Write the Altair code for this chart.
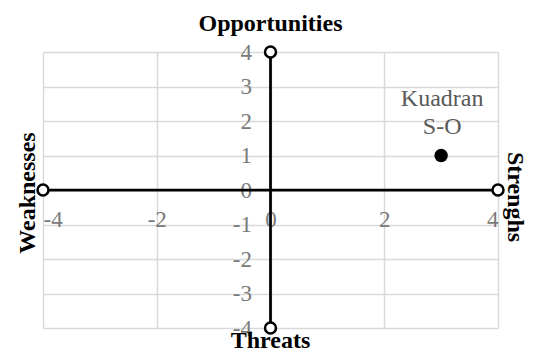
import altair as alt
import pandas as pd

# ---- data ----
x_tick_values = [-4, -2, 0, 2, 4]
y_tick_values = [-4, -3, -2, -1, 0, 1, 2, 3, 4]

axis_line_id = ["horizontal", "horizontal", "vertical", "vertical"]
axis_line_x = [-4, 4, 0, 0]
axis_line_y = [0, 0, -4, 4]

point_x = [3]
point_y = [1]
point_label = ["Kuadran\nS-O"]

title_names = ["Opportunities", "Threats", "Weaknesses", "Strenghs"]
title_x = [0, 0, -4, 4]
title_y = [4, -4, 0, 0]

# ---- tables ----
lines_df = pd.DataFrame({"id": axis_line_id, "x": axis_line_x, "y": axis_line_y})
pt_df = pd.DataFrame({"x": point_x, "y": point_y, "label": point_label})
titles_df = pd.DataFrame({"name": title_names, "x": title_x, "y": title_y})

FONT = "Liberation Serif"
xs = alt.Scale(domain=[-4, 4], nice=False, zero=False)
ys = alt.Scale(domain=[-4, 4], nice=False, zero=False)

W, H = 455, 276

grid_x_axis = alt.Axis(values=x_tick_values, grid=True, labels=False, ticks=False,
                       domain=False, title=None, gridColor="#d9d9d9", gridWidth=1.5, orient="bottom")
grid_y_axis = alt.Axis(values=y_tick_values, grid=True, labels=False, ticks=False,
                       domain=False, title=None, gridColor="#d9d9d9", gridWidth=1.5, orient="left")

lbl_x_axis = alt.Axis(values=x_tick_values, grid=False, ticks=False, domain=False, title=None,
                      orient="bottom", offset=-(H / 2), labelPadding=18, labelFont=FONT,
                      labelFontSize=23, labelColor="#7a7a7a", labelBaseline="top",
                      labelExpr="'' + datum.value", labelOverlap=False)
lbl_y_axis = alt.Axis(values=y_tick_values, grid=False, ticks=False, domain=False, title=None,
                      orient="left", offset=-(W / 2), labelPadding=19, labelFont=FONT,
                      labelFontSize=23, labelColor="#7a7a7a", labelBaseline="middle",
                      labelExpr="'' + datum.value", labelOverlap=False)

lines = alt.Chart(lines_df).mark_line(color="black", strokeWidth=2.75).encode(
    x=alt.X("x:Q", scale=xs, axis=grid_x_axis),
    y=alt.Y("y:Q", scale=ys, axis=grid_y_axis),
    detail="id:N",
)

ends = alt.Chart(lines_df).mark_point(filled=True, fill="white", stroke="black",
                                      strokeWidth=2.5, size=120, opacity=1).encode(
    x=alt.X("x:Q", scale=xs, axis=lbl_x_axis),
    y=alt.Y("y:Q", scale=ys, axis=lbl_y_axis),
)

pt = alt.Chart(pt_df).mark_circle(color="black", size=180, opacity=1).encode(
    x=alt.X("x:Q", scale=xs, axis=None),
    y=alt.Y("y:Q", scale=ys, axis=None),
)

pt_text = alt.Chart(pt_df).mark_text(font=FONT, fontSize=24, color="#595959", align="center",
                                      baseline="alphabetic", lineBreak="\n", lineHeight=28,
                                      dy=-50, dx=1).encode(
    x=alt.X("x:Q", scale=xs, axis=None),
    y=alt.Y("y:Q", scale=ys, axis=None),
    text="label:N",
)

def title_layer(name, **kw):
    return alt.Chart(titles_df).transform_filter(alt.datum.name == name).mark_text(
        font=FONT, fontSize=24, fontWeight="bold", color="black", align="center",
        baseline="alphabetic", **kw).encode(
        x=alt.X("x:Q", scale=xs, axis=None),
        y=alt.Y("y:Q", scale=ys, axis=None),
        text="name:N",
    )

t_top = title_layer("Opportunities", dy=-21)
t_bot = title_layer("Threats", dy=20)
t_left = title_layer("Weaknesses", angle=270, dy=-8, dx=-3)
t_right = title_layer("Strenghs", angle=90, dy=-10, dx=7)

chart = alt.layer(lines, ends, pt, pt_text, t_top, t_bot, t_left, t_right).resolve_axis(
    x="independent", y="independent"
).properties(
    width=W, height=H,
    autosize=alt.AutoSizeParams(type="none"),
    padding={"left": 35, "top": 44, "right": 27, "bottom": 22},
).configure_view(stroke=None)

chart.save("out.html", embed_options={"renderer": "svg", "actions": False})
